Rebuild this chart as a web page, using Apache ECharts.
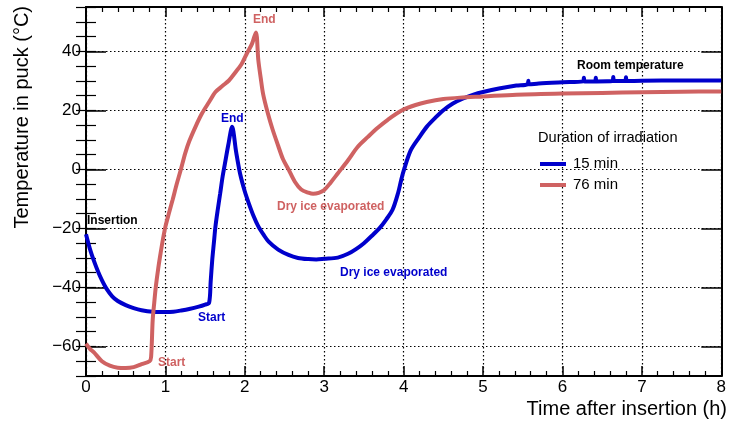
<!DOCTYPE html>
<html>
<head>
<meta charset="utf-8">
<script src="https://cdn.jsdelivr.net/npm/echarts@6/dist/echarts.min.js"></script>
<style>
html,body{margin:0;padding:0;background:#fff;}
#chart{width:729px;height:423px;}
</style>
</head>
<body>
<div id="chart"></div>
<script>
// ---------- data ----------
const seriesNames = ['15 min', '76 min'];
const legendTitle = 'Duration of irradiation';
const xTitle = 'Time after insertion (h)';
const yTitle = 'Temperature in puck (\u00B0C)';
const yMajorTicks = [-60, -40, -20, 0, 20, 40];

const blueTime = [0, 0.05, 0.1, 0.15, 0.2, 0.26, 0.33, 0.4, 0.5, 0.6, 0.7, 0.84, 1.0, 1.1, 1.2, 1.3, 1.42, 1.5, 1.55,
  1.57, 1.59, 1.61, 1.63, 1.66, 1.69, 1.72, 1.75, 1.79, 1.84, 1.89, 1.94, 2.0, 2.05, 2.11, 2.17, 2.24, 2.3, 2.42, 2.55,
  2.67, 2.8, 2.9, 3.0, 3.17, 3.3, 3.4, 3.5, 3.6, 3.7, 3.78, 3.86, 3.93, 3.97, 4.0, 4.09, 4.2, 4.29, 4.4, 4.5, 4.62,
  4.75, 4.88, 5.0, 5.2, 5.42, 5.56, 5.57, 5.58, 5.7, 6.0, 6.26, 6.27, 6.28, 6.41, 6.42, 6.43, 6.63, 6.64, 6.65, 6.79,
  6.8, 6.81, 7.0, 7.5, 8.0];
const blueTemp = [-22, -27, -31, -34.5, -37.5, -40.5, -43, -44.6, -46, -47, -47.7, -48.2, -48.3, -48.2, -47.8, -47.3,
  -46.5, -45.8, -45.2, -38, -30.6, -25, -19.4, -13.5, -8.1, -2.5, 2, 8, 14.4, 6, -1.4, -7.5, -11.5, -15.8, -19.3,
  -22.3, -24.5, -27.2, -29, -30, -30.4, -30.5, -30.3, -29.9, -28.6, -27, -25, -22.5, -19.8, -17, -13.7, -8, -3.5,
  -0.5, 6.5, 11, 14.4, 17.5, 20, 22.3, 24, 25.3, 26.2, 27.4, 28.4, 28.8, 30.0, 28.8, 29.1, 29.5, 29.8, 31, 29.8, 29.8,
  31, 29.8, 29.9, 31.3, 29.9, 29.9, 31.2, 29.9, 30, 30.1, 30.1];

const redTime = [0, 0.05, 0.1, 0.2, 0.3, 0.4, 0.5, 0.6, 0.7, 0.8, 0.82, 0.84, 0.86, 0.88, 0.91, 0.94, 0.97, 1.0, 1.045,
  1.09, 1.14, 1.19, 1.25, 1.3, 1.38, 1.46, 1.55, 1.63, 1.72, 1.8, 1.88, 1.96, 2.03, 2.09, 2.14, 2.17, 2.2, 2.23, 2.29,
  2.35, 2.42, 2.48, 2.55, 2.63, 2.71, 2.8, 2.86, 2.93, 3.0, 3.08, 3.17, 3.3, 3.42, 3.55, 3.67, 3.8, 3.98, 4.15, 4.29,
  4.5, 4.71, 5.0, 5.42, 6.0, 6.5, 7.0, 7.5, 8.0];
const redTemp = [-59, -60.8, -62, -65, -66.5, -67.2, -67.3, -67, -66, -65, -63.5, -51, -45, -39.6, -33.5, -28.3, -23.5,
  -19.4, -14.8, -10.4, -5.2, -0.5, 5.5, 9.5, 14.5, 18.9, 22.8, 26.2, 28.3, 30.1, 32.8, 35.7, 39.5, 42.5, 46.4, 37, 31,
  25.6, 19, 13.5, 8, 3.5, 0, -4.2, -6.8, -7.9, -8.3, -8, -7, -4.5, -1.4, 3.1, 7.6, 11, 14, 16.8, 20, 21.8, 22.8, 23.8,
  24.3, 24.7, 25.3, 25.7, 25.9, 26.1, 26.3, 26.4];

// ---------- styles ----------
const FONT = '"Liberation Sans", Arial, Helvetica, sans-serif';
const BLUE = '#0000cc';
const RED = '#cf6262';

function pairs(xs, ys) { return xs.map((x, i) => [x, ys[i]]); }
const minus = v => String(v).replace('-', '\u2212');

const gridLine = { show: true, lineStyle: { color: '#000', type: [1.5, 2.5], width: 1.2 } };

function xAx(pos, labels) {
  return {
    type: 'value', position: pos, min: 0, max: 8, interval: 1,
    axisLine: { show: true, onZero: false, lineStyle: { color: '#000', width: 2 } },
    axisTick: { show: true, inside: true, length: 10, lineStyle: { color: '#000', width: 1.5 } },
    minorTick: { show: true, splitNumber: 5, length: 5, lineStyle: { color: '#000', width: 1.2 } },
    axisLabel: { show: labels, color: '#000', fontFamily: FONT, fontSize: 17, margin: 3, formatter: minus },
    splitLine: labels ? gridLine : { show: false }
  };
}
function yMajor(pos, labels) {
  return {
    type: 'value', position: pos, min: -70, max: 55,
    axisLine: { show: true, onZero: false, lineStyle: { color: '#000', width: 2 } },
    axisTick: { show: true, inside: true, length: 20, customValues: yMajorTicks, lineStyle: { color: '#000', width: 1.5 } },
    axisLabel: { show: labels, customValues: yMajorTicks, color: '#000', fontFamily: FONT, fontSize: 17, margin: 5, formatter: minus },
    splitLine: labels ? gridLine : { show: false }
  };
}
function yMinor(pos) {
  return {
    type: 'value', position: pos, min: -70, max: 55, interval: 5,
    axisLine: { show: false },
    axisTick: { show: true, inside: true, length: 10, lineStyle: { color: '#000', width: 1.2 } },
    axisLabel: { show: false },
    splitLine: { show: false }
  };
}

function txt(x, y, text, color) {
  return {
    type: 'text', x: x, y: y, z: 100,
    style: { text: text, fill: color, font: 'bold 12px ' + FONT, textVerticalAlign: 'middle' }
  };
}

const chart = echarts.init(document.getElementById('chart'), null, { renderer: 'canvas' });
chart.setOption({
  animation: false,
  backgroundColor: '#fff',
  grid: { left: 86, right: 2, top: 7, bottom: 47, containLabel: false },
  xAxis: [xAx('bottom', true), xAx('top', false)],
  yAxis: [yMajor('left', true), yMinor('left'), yMajor('right', false), yMinor('right')],
  legend: {
    left: 540, top: 154, orient: 'vertical', itemGap: 1, padding: 0,
    icon: 'rect', itemWidth: 26, itemHeight: 4,
    textStyle: { fontFamily: FONT, fontSize: 15, color: '#000', lineHeight: 20, padding: [0, 0, 0, 2] },
    data: seriesNames
  },
  series: [
    { name: seriesNames[0], type: 'line', xAxisIndex: 0, yAxisIndex: 0, data: pairs(blueTime, blueTemp),
      showSymbol: false, smooth: 0.3, color: BLUE, lineStyle: { width: 4, color: BLUE }, z: 3 },
    { name: seriesNames[1], type: 'line', xAxisIndex: 0, yAxisIndex: 0, data: pairs(redTime, redTemp),
      showSymbol: false, smooth: 0.3, color: RED, lineStyle: { width: 4, color: RED }, z: 4 }
  ],
  graphic: [
    { type: 'text', x: 727, y: 409, style: { text: xTitle, fill: '#000', font: '20px ' + FONT, textAlign: 'right', textVerticalAlign: 'middle' } },
    { type: 'text', x: 22, y: 6, rotation: Math.PI / 2, style: { text: yTitle, fill: '#000', font: '20px ' + FONT, textAlign: 'right', textVerticalAlign: 'middle' } },
    { type: 'text', x: 538, y: 138, style: { text: legendTitle, fill: '#000', font: '14.6px ' + FONT, textVerticalAlign: 'middle' } },
    txt(87, 221, 'Insertion', '#000'),
    txt(198, 318, 'Start', BLUE),
    txt(158, 363, 'Start', RED),
    txt(221, 119, 'End', BLUE),
    txt(253, 20, 'End', RED),
    txt(277, 207, 'Dry ice evaporated', RED),
    txt(340, 273, 'Dry ice evaporated', BLUE),
    txt(577, 66, 'Room temperature', '#000')
  ]
});
</script>
</body>
</html>
